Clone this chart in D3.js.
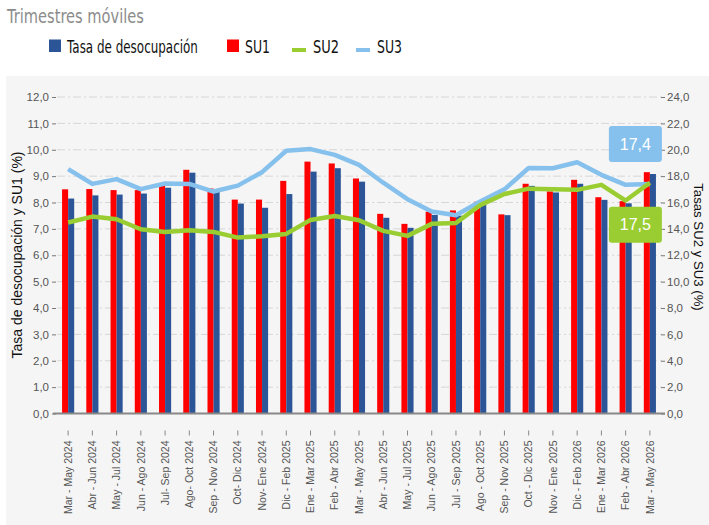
<!DOCTYPE html>
<html>
<head>
<meta charset="utf-8">
<script src="https://cdn.jsdelivr.net/npm/d3@7"></script>
<style>
  body { margin: 0; background: #fff; }
  svg { display: block; }
</style>
</head>
<body>
<div id="chart"></div>
<script>
// categorías (trimestres móviles)
const categorias = [
  "Mar - May 2024", "Abr - Jun 2024", "May - Jul 2024", "Jun - Ago 2024", "Jul- Sep 2024",
  "Ago- Oct 2024", "Sep - Nov 2024", "Oct- Dic 2024", "Nov- Ene 2024", "Dic - Feb 2025",
  "Ene - Mar 2025", "Feb - Abr 2025", "Mar - May 2025", "Abr - Jun 2025", "May - Jul 2025",
  "Jun - Ago 2025", "Jul - Sep 2025", "Ago - Oct 2025", "Sep - Nov 2025", "Oct - Dic 2025",
  "Nov - Ene 2025", "Dic - Feb 2026", "Ene - Mar 2026", "Feb - Abr 2026", "Mar - May 2026"
];
const tasaDesocupacion = [8.15, 8.27, 8.30, 8.34, 8.56, 9.13, 8.41, 7.96, 7.80, 8.32, 9.17, 9.30, 8.79,
  7.42, 7.04, 7.53, 7.50, 7.91, 7.52, 8.63, 8.38, 8.71, 8.10, 7.97, 9.08];
const su1 = [8.50, 8.51, 8.47, 8.47, 8.72, 9.24, 8.53, 8.11, 8.11, 8.82, 9.55, 9.48, 8.91,
  7.57, 7.19, 7.65, 7.70, 8.03, 7.55, 8.71, 8.42, 8.86, 8.20, 8.05, 9.15];
const su2 = [14.48, 14.93, 14.73, 13.97, 13.77, 13.90, 13.77, 13.34, 13.44, 13.62, 14.68, 14.98, 14.65,
  13.85, 13.47, 14.38, 14.45, 15.80, 16.64, 17.05, 17.00, 16.96, 17.34, 16.15, 17.5];
const su3 = [18.53, 17.41, 17.77, 17.01, 17.44, 17.41, 16.83, 17.28, 18.30, 19.92, 20.05, 19.61, 18.85,
  17.50, 16.25, 15.31, 15.03, 16.07, 17.00, 18.62, 18.60, 19.05, 18.10, 17.34, 17.4];
const ticksIzq = [0, 1, 2, 3, 4, 5, 6, 7, 8, 9, 10, 11, 12];
const ticksDer = [0, 2, 4, 6, 8, 10, 12, 14, 16, 18, 20, 22, 24];

const W = 709, H = 525;
const plotLeft = 56, plotRight = 662, plotTop = 97, plotBottom = 413.5;
const azul = "#2b5597", rojo = "#ff0000", verde = "#9acd32", celeste = "#85c1ec";
const fmt = d => d.toFixed(1).replace(".", ",");

const svg = d3.select("#chart").append("svg")
  .attr("width", W).attr("height", H)
  .style("font-family", "Arial, 'Liberation Sans', sans-serif");

// texto angosto: se comprime con una escala horizontal hasta el ancho del original
function textoAngosto(sel, x0, y0, ancho) {
  const largo = sel.node().getComputedTextLength();
  sel.attr("transform", `translate(${x0},${y0}) scale(${ancho / largo},1)`);
}

// fondo del panel
svg.append("rect")
  .attr("x", 6).attr("y", 76).attr("width", W - 6).attr("height", H - 76)
  .attr("fill", "#f5f5f5");

// título
svg.append("text")
  .attr("font-family", "'DejaVu Sans', sans-serif")
  .attr("font-size", 20).attr("fill", "#8c8c8c")
  .text("Trimestres móviles")
  .call(textoAngosto, 7, 23, 137);

// Escalas
const x = d3.scaleBand().domain(categorias).range([plotLeft, plotRight])
  .paddingInner(0.5).paddingOuter(0.25);
const xSub = d3.scaleBand().domain(["su1", "tasa"]).range([0, x.bandwidth()]);
const yIzq = d3.scaleLinear().domain([0, 12]).range([plotBottom, plotTop]);
const yDer = d3.scaleLinear().domain([0, 24]).range([plotBottom, plotTop]);
const cx = c => x(c) + x.bandwidth() / 2;

// grilla
svg.append("g").selectAll("line")
  .data(ticksIzq.slice(1))
  .enter().append("line")
  .attr("x1", plotLeft + 1).attr("x2", plotRight)
  .attr("y1", d => yIzq(d)).attr("y2", d => yIzq(d))
  .attr("stroke", "#d6d6d6").attr("stroke-width", 1)
  .attr("stroke-dasharray", "8,3,2,3");

// Ejes
const ejeIzq = svg.append("g")
  .attr("transform", `translate(${plotLeft},0)`)
  .call(d3.axisLeft(yIzq).tickValues(ticksIzq).tickFormat(fmt).tickSize(4).tickPadding(3));
const ejeDer = svg.append("g")
  .attr("transform", `translate(${plotRight - 1},0)`)
  .call(d3.axisRight(yDer).tickValues(ticksDer).tickFormat(fmt).tickSize(4).tickPadding(2));
[ejeIzq, ejeDer].forEach(g => {
  g.select(".domain").remove();
  g.selectAll("line").attr("stroke", "#777");
  g.selectAll("text").attr("font-size", 11.5).attr("fill", "#555").attr("font-family", "Arial, 'Liberation Sans', sans-serif");
});

// Barras
const grupos = svg.append("g").selectAll("g")
  .data(categorias)
  .enter().append("g")
  .attr("transform", d => `translate(${x(d)},0)`);

grupos.append("rect")
  .attr("x", xSub("su1"))
  .attr("y", (d, i) => yIzq(su1[i]))
  .attr("width", xSub.bandwidth())
  .attr("height", (d, i) => plotBottom - yIzq(su1[i]))
  .attr("fill", rojo);

grupos.append("rect")
  .attr("x", xSub("tasa"))
  .attr("y", (d, i) => yIzq(tasaDesocupacion[i]))
  .attr("width", xSub.bandwidth())
  .attr("height", (d, i) => plotBottom - yIzq(tasaDesocupacion[i]))
  .attr("fill", azul);

// eje X
svg.append("line")
  .attr("x1", plotLeft - 3).attr("x2", plotRight + 3)
  .attr("y1", plotBottom).attr("y2", plotBottom)
  .attr("stroke", "#888").attr("stroke-width", 2);

const ejeX = svg.append("g")
  .attr("transform", `translate(0,${plotBottom + 17})`)
  .call(d3.axisBottom(x).tickSize(5).tickPadding(4));
ejeX.select(".domain").remove();
ejeX.selectAll("line").attr("stroke", "#888");
ejeX.selectAll("text")
  .attr("font-size", 10.5).attr("fill", "#555")
  .attr("font-family", "Arial, 'Liberation Sans', sans-serif")
  .attr("transform", "rotate(-90)")
  .attr("text-anchor", "end")
  .attr("x", -10).attr("y", 0).attr("dy", "0.35em");

// Líneas
const linea = d3.line()
  .x((d, i) => cx(categorias[i]))
  .y(d => yDer(d));

svg.append("path")
  .datum(su3)
  .attr("d", linea)
  .attr("fill", "none").attr("stroke", celeste)
  .attr("stroke-width", 4.5).attr("stroke-linejoin", "round");

svg.append("path")
  .datum(su2)
  .attr("d", linea)
  .attr("fill", "none").attr("stroke", verde)
  .attr("stroke-width", 4.5).attr("stroke-linejoin", "round");

// Etiquetas del último valor
const ultimo = categorias[categorias.length - 1];
const etiquetas = [
  { valor: su3[su3.length - 1], color: celeste, dy: -58 },
  { valor: su2[su2.length - 1], color: verde, dy: 24 }
];
etiquetas.forEach(e => {
  const bx = cx(ultimo) + 12 - 53;
  const by = yDer(e.valor) + e.dy;
  svg.append("rect")
    .attr("x", bx).attr("y", by).attr("width", 53).attr("height", 36)
    .attr("rx", 3).attr("fill", e.color);
  svg.append("text")
    .attr("x", bx + 26.5).attr("y", by + 18).attr("dy", "0.35em")
    .attr("text-anchor", "middle").attr("fill", "#fff")
    .attr("font-size", 16)
    .text(fmt(e.valor));
});

// Títulos de ejes
svg.append("text")
  .attr("transform", `translate(22,255) rotate(-90)`)
  .attr("text-anchor", "middle")
  .attr("font-size", 14).attr("fill", "#111")
  .text("Tasa de desocupación y SU1 (%)");

svg.append("text")
  .attr("transform", `translate(694,247) rotate(90)`)
  .attr("text-anchor", "middle")
  .attr("font-size", 13.2).attr("fill", "#111")
  .text("Tasas SU2 y SU3 (%)");

// Leyenda
const leyenda = [
  { nombre: "Tasa de desocupación", color: azul, tipo: "cuadro", x: 49, ancho: 131 },
  { nombre: "SU1", color: rojo, tipo: "cuadro", x: 227, ancho: 25 },
  { nombre: "SU2", color: verde, tipo: "linea", x: 292, ancho: 26 },
  { nombre: "SU3", color: celeste, tipo: "linea", x: 356, ancho: 25 }
];
const gl = svg.append("g");
leyenda.forEach(l => {
  if (l.tipo === "cuadro") {
    gl.append("rect").attr("x", l.x).attr("y", 39.5).attr("width", 12).attr("height", 12.5).attr("fill", l.color);
  } else {
    gl.append("rect").attr("x", l.x).attr("y", 48).attr("width", 14).attr("height", 4).attr("fill", l.color);
  }
  gl.append("text")
    .attr("font-family", "'DejaVu Sans', sans-serif")
    .attr("font-size", 18).attr("fill", "#111")
    .text(l.nombre)
    .call(textoAngosto, l.x + (l.tipo === "cuadro" ? 18 : 21), 53, l.ancho);
});
</script>
</body>
</html>
